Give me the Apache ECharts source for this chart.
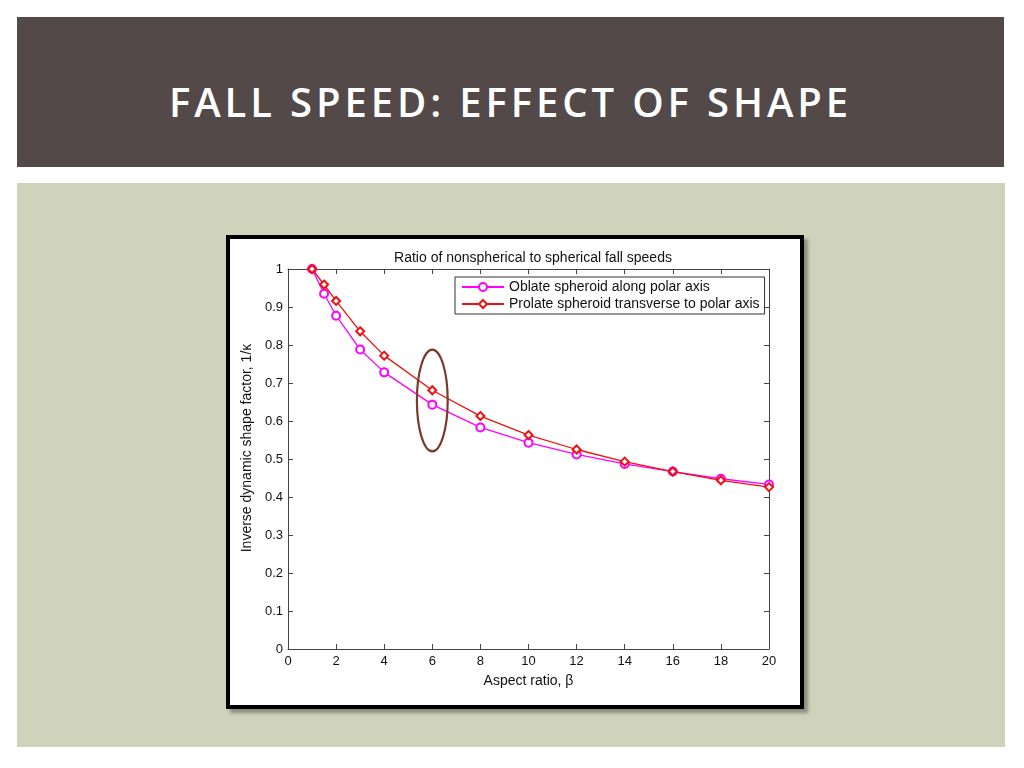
<!DOCTYPE html>
<html>
<head>
<meta charset="utf-8">
<script src="https://cdn.jsdelivr.net/npm/echarts@6/dist/echarts.min.js"></script>
<style>
  html, body { margin: 0; padding: 0; background: #ffffff; width: 1024px; height: 768px; overflow: hidden; }
  #header { position: absolute; left: 17px; top: 17px; width: 987px; height: 150px; background: #524948; }
  #headtxt { position: absolute; left: 0; top: 10px; width: 987px; height: 150px; line-height: 150px; text-align: center;
    color: #ffffff; font-family: "Open Sans", sans-serif; font-size: 40px; font-weight: 600; letter-spacing: 3.9px; }
  #panel { position: absolute; left: 17px; top: 183px; width: 988px; height: 564px; background: #cfd3bc; }
  #frame { position: absolute; left: 226px; top: 235px; width: 570px; height: 466px; border: 4px solid #000; background: #fff;
    box-shadow: 4px 4px 3px rgba(60,60,50,0.45); }
  #chart { position: absolute; left: 0; top: 0; width: 570px; height: 466px; }
</style>
</head>
<body>
<div id="header"><div id="headtxt">FALL SPEED: EFFECT OF SHAPE</div></div>
<div id="panel"></div>
<div id="frame"><div id="chart"></div></div>
<script>
// ---- data ----
var aspectRatio = [1, 1.5, 2, 3, 4, 6, 8, 10, 12, 14, 16, 18, 20];
var oblate  = [1.0, 0.935, 0.877, 0.788, 0.728, 0.643, 0.583, 0.543, 0.512, 0.487, 0.467, 0.448, 0.433];
var prolate = [1.0, 0.959, 0.916, 0.836, 0.772, 0.681, 0.613, 0.563, 0.525, 0.493, 0.467, 0.444, 0.426];
var seriesNames = ['Oblate spheroid along polar axis', 'Prolate spheroid transverse to polar axis'];
// highlight ellipse (data units): centre x, centre y, half-width x, half-height y
var highlight = { cx: 6, cy: 0.654, rx: 0.64, ry: 0.134 };

function pairs(xs, ys) { return xs.map(function (x, i) { return [x, ys[i]]; }); }

var axisColor = '#444';
var font = '"Liberation Sans", Arial, sans-serif';

var chart = echarts.init(document.getElementById('chart'), null, { renderer: 'canvas' });
var option = {
  animation: false,
  backgroundColor: '#ffffff',
  title: {
    text: 'Ratio of nonspherical to spherical fall speeds',
    left: 298, top: 7, textAlign: 'center',
    textStyle: { fontFamily: font, fontSize: 14, fontWeight: 'normal', color: '#111' }
  },
  grid: { left: 58, top: 30, width: 481, height: 380, containLabel: false },
  legend: {
    orient: 'vertical', left: 225, top: 38,
    backgroundColor: '#fff', borderColor: '#333', borderWidth: 1, borderRadius: 0,
    padding: [3, 5, 3, 6], itemGap: 3, itemWidth: 42, itemHeight: 10,
    textStyle: { fontFamily: font, fontSize: 14, color: '#111' },
    data: seriesNames
  },
  xAxis: [{
    type: 'value', min: 0, max: 20, interval: 2,
    name: 'Aspect ratio, β', nameLocation: 'middle', nameGap: 25,
    nameTextStyle: { fontFamily: font, fontSize: 14, color: '#111' },
    axisLine: { show: true, lineStyle: { color: axisColor } },
    axisTick: { show: true, inside: true, length: 5, lineStyle: { color: axisColor } },
    axisLabel: { fontFamily: font, fontSize: 13, color: '#111', margin: 6 },
    splitLine: { show: false }
  }, {
    type: 'value', min: 0, max: 20, interval: 2, position: 'top',
    axisLine: { show: true, onZero: false, lineStyle: { color: axisColor } },
    axisTick: { show: true, inside: true, length: 5, lineStyle: { color: axisColor } },
    axisLabel: { show: false }, splitLine: { show: false }
  }],
  yAxis: [{
    type: 'value', min: 0, max: 1, interval: 0.1,
    name: 'Inverse dynamic shape factor, 1/κ', nameLocation: 'middle', nameGap: 31, nameRotate: 90,
    nameTextStyle: { fontFamily: font, fontSize: 14, color: '#111', padding: [0, 0, 0, 22] },
    axisLine: { show: true, lineStyle: { color: axisColor } },
    axisTick: { show: true, inside: true, length: 5, lineStyle: { color: axisColor } },
    axisLabel: { fontFamily: font, fontSize: 13, color: '#111', margin: 5 },
    splitLine: { show: false }
  }, {
    type: 'value', min: 0, max: 1, interval: 0.1, position: 'right',
    axisLine: { show: true, onZero: false, lineStyle: { color: axisColor } },
    axisTick: { show: true, inside: true, length: 5, lineStyle: { color: axisColor } },
    axisLabel: { show: false }, splitLine: { show: false }
  }],
  series: [{
    name: seriesNames[0], type: 'line', data: pairs(aspectRatio, oblate),
    symbol: 'emptyCircle', symbolSize: 8,
    lineStyle: { color: '#ff00ff', width: 1.3 },
    itemStyle: { color: '#ff00ff', borderColor: '#ff00ff', borderWidth: 1.3 }, z: 3
  }, {
    name: seriesNames[1], type: 'line', data: pairs(aspectRatio, prolate),
    symbol: 'emptyDiamond', symbolSize: 8,
    lineStyle: { color: '#ee1111', width: 1.3 },
    itemStyle: { color: '#ee1111', borderColor: '#ee1111', borderWidth: 1.3 }, z: 4
  }]
};
chart.setOption(option);

// highlight ellipse placed from data coordinates
var c = chart.convertToPixel({ gridIndex: 0 }, [highlight.cx, highlight.cy]);
var e = chart.convertToPixel({ gridIndex: 0 }, [highlight.cx + highlight.rx, highlight.cy + highlight.ry]);
chart.setOption({
  graphic: [{
    type: 'ellipse', z: 10, silent: true,
    shape: { cx: c[0], cy: c[1], rx: Math.abs(e[0] - c[0]), ry: Math.abs(c[1] - e[1]) },
    style: { fill: 'none', stroke: '#7a3a2c', lineWidth: 2.2 }
  }]
});
</script>
</body>
</html>
